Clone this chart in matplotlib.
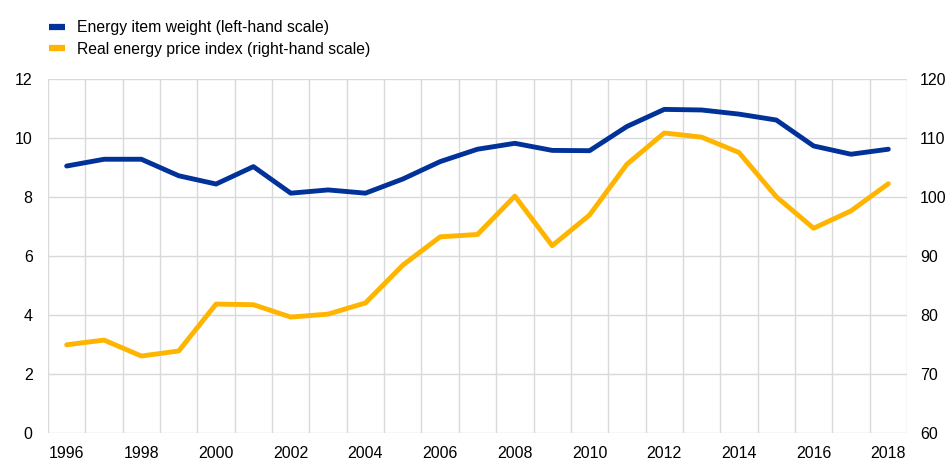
import matplotlib
matplotlib.use("Agg")
import matplotlib.pyplot as plt
from matplotlib.lines import Line2D

years = list(range(1996, 2019))
energy_weight = [9.06, 9.29, 9.29, 8.73, 8.45, 9.04, 8.14, 8.25, 8.14, 8.62, 9.21,
                 9.63, 9.83, 9.59, 9.58, 10.4, 10.98, 10.96, 10.82, 10.62, 9.74, 9.46, 9.63]
real_price = [75.0, 75.8, 73.1, 73.95, 81.9, 81.8, 79.7, 80.2, 82.1, 88.5, 93.3,
              93.7, 100.2, 91.8, 97.0, 105.6, 110.9, 110.2, 107.6, 100.1, 94.75, 97.7, 102.3]
xtick_labels = [str(y) for y in years if y % 2 == 0]
series_names = ["Energy item weight (left-hand scale)",
                "Real energy price index (right-hand scale)"]

BLUE = "#003299"
ORANGE = "#FFB400"
GRID = "#d9d9d9"

plt.rcParams['font.family'] = ['Liberation Sans', 'DejaVu Sans']

fig = plt.figure(figsize=(9.47, 4.59), dpi=100)
ax = fig.add_axes([48/947, 25.7/459, (907-48)/947, (433.3-79.3)/459])
ax2 = ax.twinx()

n = len(years)
x = list(range(n))
ax.plot(x, energy_weight, color=BLUE, lw=3.5, solid_capstyle='round', zorder=3)
ax2.plot(x, real_price, color=ORANGE, lw=3.5, solid_capstyle='round', zorder=3)

ax.set_xlim(-0.5, n - 0.5)
ax.set_ylim(0, 12)
ax2.set_ylim(60, 120)
ax.set_yticks(range(0, 13, 2))
ax2.set_yticks(range(60, 121, 10))

for b in range(n + 1):
    ax2.axvline(b - 0.5, color=GRID, lw=1, zorder=0)
for yv in range(0, 13, 2):
    ax2.axhline(yv * 5 + 60, color=GRID, lw=1, zorder=0)

tick_pos = [i for i, y in enumerate(years) if y % 2 == 0]
ax.set_xticks(tick_pos)
ax.set_xticklabels(xtick_labels)

for a in (ax, ax2):
    for s in a.spines.values():
        s.set_visible(False)
    a.tick_params(length=0, labelsize=11.5, colors='#000000')
ax.tick_params(axis='y', pad=11)
ax2.tick_params(axis='y', pad=9.5)
ax.tick_params(axis='x', pad=9)

ax.set_zorder(ax2.get_zorder() + 1)
ax.patch.set_visible(False)

handles = [Line2D([], [], color=BLUE, lw=4.5, solid_capstyle='butt'),
           Line2D([], [], color=ORANGE, lw=4.5, solid_capstyle='butt')]
fig.legend(handles, series_names, loc='upper left', bbox_to_anchor=(43/947, 1 - 14/459),
           frameon=False, fontsize=11.3, handlelength=1.0, handletextpad=0.75,
           labelspacing=0.4, borderaxespad=0)

fig.savefig("out.png", dpi=100)
